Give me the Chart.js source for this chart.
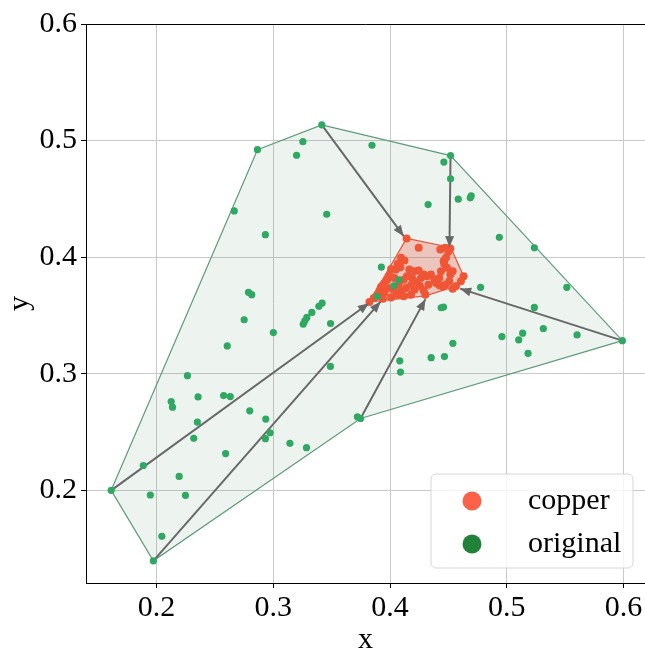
<!DOCTYPE html>
<html>
<head>
<meta charset="utf-8">
<script src="https://cdn.jsdelivr.net/npm/chart.js@4.4.1/dist/chart.umd.min.js"></script>
<style>
  html, body { margin: 0; padding: 0; background: #fff; overflow: hidden; }
  #wrap { width: 645px; height: 648px; }
</style>
</head>
<body>
<div id="wrap"><canvas id="chart"></canvas></div>
<script>
const seriesNames = ['copper', 'original'];
const xTicks = [0.2, 0.3, 0.4, 0.5, 0.6];
const yTicks = [0.2, 0.3, 0.4, 0.5, 0.6];

const originalX = [0.1611, 0.1972, 0.3747, 0.5990, 0.4518, 0.3415, 0.2864,
  0.3253, 0.3199, 0.2665, 0.3457, 0.2932, 0.2787, 0.2815, 0.2750, 0.3000, 0.2605, 0.3418, 0.3390, 0.3330, 0.3287, 0.3270, 0.3256, 0.3490,
  0.3489, 0.2264, 0.2125, 0.2136, 0.2355, 0.2574, 0.2631, 0.2798, 0.2935, 0.2972, 0.2932, 0.2349, 0.2318, 0.3142, 0.3284, 0.2591, 0.1886, 0.2193, 0.1946, 0.2247, 0.2045, 0.3720,
  0.3845, 0.4461, 0.4518, 0.4695, 0.4687, 0.4584, 0.4326, 0.4936, 0.5236, 0.3925, 0.5514, 0.4775, 0.5236, 0.4458, 0.4438, 0.5313, 0.5136, 0.5102, 0.5602, 0.4958, 0.4538, 0.5182, 0.4352, 0.4466, 0.4083, 0.4089,
  0.4075, 0.4033, 0.3890];
const originalY = [0.2000, 0.1395, 0.2616, 0.3284, 0.4871, 0.5135, 0.4922,
  0.4991, 0.4874, 0.4397, 0.4368, 0.4193, 0.3698, 0.3678, 0.3463, 0.3353, 0.3239, 0.3606, 0.3578, 0.3526, 0.3483, 0.3454, 0.3425, 0.3431,
  0.3063, 0.2983, 0.2761, 0.2713, 0.2801, 0.2813, 0.2804, 0.2682, 0.2611, 0.2494, 0.2443, 0.2585, 0.2446, 0.2403, 0.2366, 0.2315, 0.2213, 0.2119, 0.1960, 0.1957, 0.1605, 0.2630,
  0.4960, 0.4816, 0.4672, 0.4526, 0.4509, 0.4497, 0.4451, 0.4170, 0.4080, 0.3915, 0.3741, 0.3741, 0.3569, 0.3572, 0.3566, 0.3388, 0.3348, 0.3290, 0.3333, 0.3319, 0.3261, 0.3175, 0.3138, 0.3147, 0.3111, 0.3014,
  0.3806, 0.3754, 0.3662];

const copperX = [0.4142, 0.4245, 0.4430, 0.4473, 0.4516, 0.4499, 0.4479, 0.4459, 0.4094, 0.4123,
  0.4066, 0.4088, 0.4051, 0.4009, 0.3994, 0.3974, 0.3946, 0.3923, 0.3909, 0.3889,
  0.3860, 0.3823, 0.4165, 0.4208, 0.4245, 0.4288, 0.4316, 0.4145, 0.4117, 0.4188,
  0.4231, 0.4179, 0.4137, 0.4094, 0.4060, 0.4031, 0.4074, 0.4393, 0.4422, 0.4453,
  0.4473, 0.4507, 0.4536, 0.4516, 0.4536, 0.4487, 0.4464, 0.4436, 0.4208, 0.4256,
  0.4288, 0.4328, 0.4302, 0.4564, 0.4630, 0.4607, 0.3952, 0.3980, 0.4009, 0.3938,
  0.4350, 0.4379, 0.4422, 0.4117, 0.4179, 0.4265, 0.4037, 0.3952];
const copperY = [0.4161, 0.4080, 0.4066, 0.4080, 0.4075, 0.4046, 0.3994, 0.3966, 0.3994, 0.3971,
  0.3943, 0.3914, 0.3894, 0.3899, 0.3845, 0.3805, 0.3770, 0.3747, 0.3713, 0.3678,
  0.3649, 0.3615, 0.3894, 0.3879, 0.3885, 0.3851, 0.3836, 0.3836, 0.3807, 0.3822,
  0.3787, 0.3759, 0.3736, 0.3707, 0.3678, 0.3718, 0.3764, 0.3779, 0.3759, 0.3747,
  0.3764, 0.3793, 0.3730, 0.3851, 0.3879, 0.3909, 0.3943, 0.3879, 0.3721, 0.3753,
  0.3713, 0.3764, 0.3678, 0.3750, 0.3836, 0.3793, 0.3693, 0.3736, 0.3655, 0.3644,
  0.3851, 0.3807, 0.3822, 0.3664, 0.3678, 0.3822, 0.3822, 0.3713];

// convex hull corners, in drawing order
const originalHullX = [0.1611, 0.1972, 0.3747, 0.5990, 0.4518, 0.3415, 0.2864];
const originalHullY = [0.2000, 0.1395, 0.2616, 0.3284, 0.4871, 0.5135, 0.4922];
const copperHullX = [0.4142, 0.4520, 0.4630, 0.4564, 0.4302, 0.3823];
const copperHullY = [0.4161, 0.4083, 0.3836, 0.3750, 0.3668, 0.3615];

// arrows: original hull corner -> copper hull
const arrowFromX = [0.3415, 0.4518, 0.5990, 0.3747, 0.1972, 0.1611];
const arrowFromY = [0.5135, 0.4871, 0.3284, 0.2616, 0.1395, 0.2000];
const arrowToX = [0.4117, 0.4509, 0.4600, 0.4303, 0.3919, 0.3819];
const arrowToY = [0.4180, 0.4086, 0.3730, 0.3640, 0.3619, 0.3605];

const legendColors = ['#fb6247', '#218338'];
const serif = "'Liberation Serif', 'Times New Roman', serif";

function toPoints(xs, ys) {
  return xs.map((x, i) => ({ x: x, y: ys[i] }));
}
function closed(xs, ys) {
  const p = toPoints(xs, ys);
  p.push(p[0]);
  return p;
}

const arrowSets = arrowFromX.map((fx, i) => ({
  label: 'arrow' + i,
  data: [{ x: fx, y: arrowFromY[i] }, { x: arrowToX[i], y: arrowToY[i] }],
  showLine: true,
  borderColor: '#686868',
  borderWidth: 2,
  pointRadius: 0,
  order: 8
}));

const arrowHeads = {
  id: 'arrowHeads',
  afterDatasetsDraw(chart) {
    const ctx = chart.ctx;
    const sx = chart.scales.x, sy = chart.scales.y;
    ctx.save();
    ctx.fillStyle = '#686868';
    for (let i = 0; i < arrowToX.length; i++) {
      const x1 = sx.getPixelForValue(arrowFromX[i]), y1 = sy.getPixelForValue(arrowFromY[i]);
      const x2 = sx.getPixelForValue(arrowToX[i]), y2 = sy.getPixelForValue(arrowToY[i]);
      const a = Math.atan2(y2 - y1, x2 - x1);
      const L = 11, W = 4.5;
      ctx.beginPath();
      ctx.moveTo(x2, y2);
      ctx.lineTo(x2 - L * Math.cos(a) + W * Math.sin(a), y2 - L * Math.sin(a) - W * Math.cos(a));
      ctx.lineTo(x2 - L * Math.cos(a) - W * Math.sin(a), y2 - L * Math.sin(a) + W * Math.cos(a));
      ctx.closePath();
      ctx.fill();
    }
    ctx.restore();
  }
};

const boxLegend = {
  id: 'boxLegend',
  afterDraw(chart) {
    const ctx = chart.ctx;
    const a = chart.chartArea;
    ctx.save();
    // top spine
    ctx.strokeStyle = '#000';
    ctx.lineWidth = 1;
    ctx.beginPath();
    ctx.moveTo(a.left, a.top + 0.5);
    ctx.lineTo(a.right, a.top + 0.5);
    ctx.stroke();

    const w = 202, h = 94;
    const bx = 431, by = a.bottom - 109;
    ctx.beginPath();
    ctx.roundRect(bx, by, w, h, 5);
    ctx.fillStyle = 'rgba(255,255,255,0.8)';
    ctx.fill();
    ctx.strokeStyle = '#d6d6d6';
    ctx.stroke();

    ctx.font = '30px ' + serif;
    ctx.textBaseline = 'middle';
    ctx.textAlign = 'left';
    seriesNames.forEach((name, i) => {
      const cy = by + 27 + i * 43;
      ctx.beginPath();
      ctx.arc(bx + 41, cy, 9.5, 0, Math.PI * 2);
      ctx.fillStyle = legendColors[i];
      ctx.fill();
      ctx.fillStyle = '#000';
      ctx.fillText(name, bx + 97, cy);
    });
    ctx.restore();
  }
};

new Chart(document.getElementById('chart'), {
  type: 'scatter',
  data: {
    datasets: [
      {
        label: 'original hull',
        data: closed(originalHullX, originalHullY),
        showLine: true,
        fill: 'shape',
        backgroundColor: 'rgba(50,135,85,0.09)',
        borderColor: '#5f9b7b',
        borderWidth: 1.2,
        pointRadius: 0,
        order: 10
      },
      {
        label: 'copper hull',
        data: closed(copperHullX, copperHullY),
        showLine: true,
        fill: 'shape',
        backgroundColor: 'rgba(232,80,55,0.28)',
        borderColor: '#e8563c',
        borderWidth: 1.2,
        pointRadius: 0,
        order: 9
      },
      ...arrowSets,
      {
        label: seriesNames[0],
        data: toPoints(copperX, copperY),
        backgroundColor: '#f05535',
        borderWidth: 0,
        pointRadius: 4,
        order: 7
      },
      {
        label: seriesNames[1],
        data: toPoints(originalX, originalY),
        backgroundColor: '#2fa862',
        borderWidth: 0,
        pointRadius: 3.6,
        order: 6
      }
    ]
  },
  options: {
    responsive: true,
    maintainAspectRatio: false,
    animation: false,
    layout: { autoPadding: false, padding: { top: 24, right: 0, left: 0, bottom: 0 } },
    plugins: {
      legend: { display: false },
      tooltip: { enabled: false }
    },
    scales: {
      x: {
        type: 'linear',
        min: 0.1395,
        max: 0.6184,
        afterBuildTicks: s => { s.ticks = xTicks.map(v => ({ value: v })); },
        afterFit: s => { s.height = 65; s.paddingRight = 0; },
        ticks: {
          font: { family: serif, size: 30 },
          color: '#000',
          padding: 2,
          callback: v => v.toFixed(1)
        },
        grid: { color: '#cacaca', tickLength: 5, tickColor: '#000' },
        border: { color: '#000', width: 1 },
        title: {
          display: true,
          text: 'x',
          font: { family: serif, size: 30 },
          color: '#000',
          padding: { top: 0, bottom: -10 }
        }
      },
      y: {
        type: 'linear',
        min: 0.1205,
        max: 0.6,
        afterBuildTicks: s => { s.ticks = yTicks.map(v => ({ value: v })); },
        afterFit: s => { s.width = 86; },
        ticks: {
          font: { family: serif, size: 30 },
          color: '#000',
          padding: 4,
          callback: v => v.toFixed(1)
        },
        grid: { color: '#cacaca', tickLength: 5, tickColor: '#000' },
        border: { color: '#000', width: 1 },
        title: {
          display: true,
          text: 'y',
          font: { family: serif, size: 30 },
          color: '#000',
          padding: { top: 2, bottom: 0 }
        }
      }
    }
  },
  plugins: [arrowHeads, boxLegend]
});
</script>
</body>
</html>
